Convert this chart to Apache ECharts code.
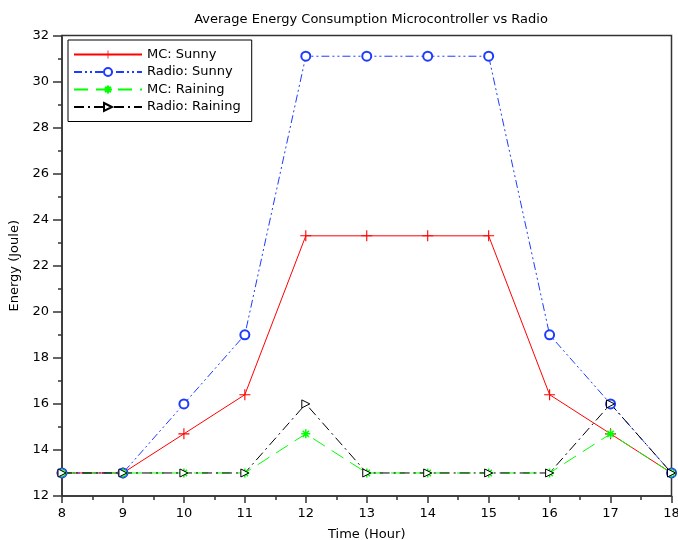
<!DOCTYPE html>
<html><head><meta charset="utf-8">
<script src="https://cdn.jsdelivr.net/npm/echarts@6/dist/echarts.min.js"></script>
<style>html,body{margin:0;padding:0;background:#fff}#c{width:678px;height:540px}</style>
</head><body><div id="c"></div>
<script>
const hours = [8, 9, 10, 11, 12, 13, 14, 15, 16, 17, 18];
const mcSunny = [13, 13, 14.7, 16.4, 23.3, 23.3, 23.3, 23.3, 16.4, 14.7, 13];
const radioSunny = [13, 13, 16, 19, 31.1, 31.1, 31.1, 31.1, 19, 16, 13];
const mcRaining = [13, 13, 13, 13, 14.7, 13, 13, 13, 13, 14.7, 13];
const radioRaining = [13, 13, 13, 13, 16, 13, 13, 13, 13, 16, 13];
const seriesNames = ['MC: Sunny', 'Radio: Sunny', 'MC: Raining', 'Radio: Raining'];

const pts = v => hours.map((h, i) => [h, v[i]]);
const font = 'DejaVu Sans';
const axisCol = '#333';
const chart = echarts.init(document.getElementById('c'), null, {renderer: 'canvas'});
chart.setOption({
  animation: false,
  backgroundColor: '#fff',
  title: {
    text: 'Average Energy Consumption Microcontroller vs Radio',
    left: 366, top: 8, textAlign: 'center',
    textStyle: {fontFamily: font, fontSize: 13, fontWeight: 'normal', color: '#000'}
  },
  grid: {left: 62, right: 6.5, top: 35.5, bottom: 44, show: true, borderColor: axisCol, borderWidth: 1.5,
         containLabel: false, outerBoundsMode: 'none'},
  legend: {
    left: 68, top: 40, orient: 'vertical',
    data: seriesNames,
    itemWidth: 68, itemHeight: 10, itemGap: 4.5,
    borderColor: '#000', borderWidth: 1, backgroundColor: '#fff',
    padding: [8, 11, 8, 5],
    textStyle: {fontFamily: font, fontSize: 13, color: '#000'}
  },
  xAxis: {
    type: 'value', min: 8, max: 18, interval: 1,
    name: 'Time (Hour)', nameLocation: 'middle', nameGap: 32,
    nameTextStyle: {fontFamily: font, fontSize: 13, color: '#000'},
    axisLine: {lineStyle: {color: axisCol, width: 1.5}},
    axisTick: {inside: false, length: 7, lineStyle: {color: axisCol, width: 1.5}},
    minorTick: {show: true, splitNumber: 2, length: 4, lineStyle: {color: axisCol, width: 1.5}},
    splitLine: {show: false},
    axisLabel: {fontFamily: font, fontSize: 13, color: '#000', margin: 11}
  },
  yAxis: {
    type: 'value', min: 12, max: 32, interval: 2,
    name: 'Energy (Joule)', nameLocation: 'middle', nameGap: 37,
    nameTextStyle: {fontFamily: font, fontSize: 13, color: '#000'},
    axisLine: {show: true, lineStyle: {color: axisCol, width: 1.5}},
    axisTick: {show: true, inside: false, length: 9, lineStyle: {color: axisCol, width: 1.5}},
    minorTick: {show: true, splitNumber: 2, length: 4, lineStyle: {color: axisCol, width: 1.5}},
    splitLine: {show: false},
    axisLabel: {fontFamily: font, fontSize: 13, color: '#000', margin: 13}
  },
  series: [
    {
      name: seriesNames[0], type: 'line', data: pts(mcSunny),
      symbol: 'path://M4.5,0h1v10h-1z M0,4.5h10v1h-10z', symbolSize: 11,
      itemStyle: {color: '#ff0000'}, lineStyle: {color: '#ff0000', width: 1, type: 'solid'}
    },
    {
      name: seriesNames[1], type: 'line', data: pts(radioSunny),
      symbol: 'emptyCircle', symbolSize: 9,
      itemStyle: {color: '#1e3cff', borderColor: '#1e3cff', borderWidth: 1.3},
      lineStyle: {color: '#1e3cff', width: 1, type: [8, 3, 2, 3, 2, 3]}
    },
    {
      name: seriesNames[2], type: 'line', data: pts(mcRaining),
      symbol: 'path://M0,5L10,5M5,0L5,10M1.5,1.5L8.5,8.5M8.5,1.5L1.5,8.5', symbolSize: 9,
      itemStyle: {color: 'rgba(0,0,0,0)', borderColor: '#00ff00', borderWidth: 1.5},
      lineStyle: {color: '#00ff00', width: 1, type: [14, 8]}
    },
    {
      name: seriesNames[3], type: 'line', data: pts(radioRaining),
      symbol: 'path://M0,0L10,5L0,10Z', symbolSize: 8,
      itemStyle: {color: '#fff', borderColor: '#000', borderWidth: 1},
      lineStyle: {color: '#000', width: 1, type: [10, 4, 2, 4]}
    }
  ]
});
</script></body></html>
